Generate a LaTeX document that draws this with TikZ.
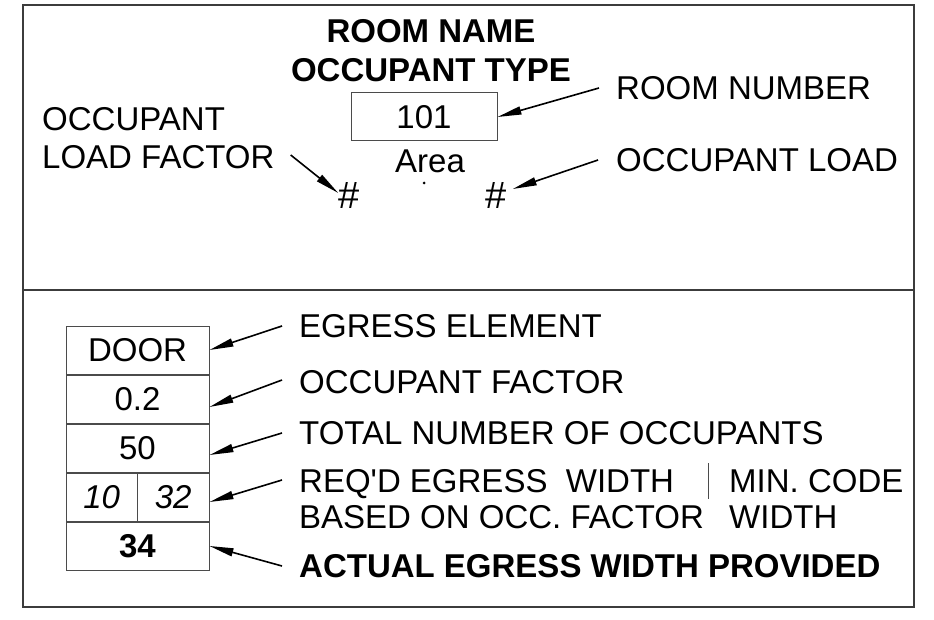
\documentclass[tikz,border=0pt]{standalone}
\usepackage{fontspec}
\setmainfont{Liberation Sans}
\definecolor{FrameGray}{RGB}{60, 60, 60}
\definecolor{CellGray}{RGB}{75, 75, 75}
\usepackage{tikz}
\usetikzlibrary{arrows.meta, positioning, calc}

\begin{document}
\begin{tikzpicture}[x=1pt, y=-1pt,
    txt/.style={inner sep=0pt, font=\fontsize{33}{40}\selectfont, text height=23pt, text depth=0pt},
    boldtxt/.style={txt, font=\bfseries\fontsize{33}{40}\selectfont},
    lbl/.style={txt, anchor=west},
    cell/.style={draw=CellGray, line width=1pt, minimum width=143pt, minimum height=48pt, inner sep=0pt,
      font=\fontsize{33}{40}\selectfont, text height=23pt, text depth=0pt},
    ptr/.style={-{Triangle[length=24pt, width=8pt]}, line width=1.6pt}]
  \useasboundingbox (0,0) rectangle (934,620);
  \draw[FrameGray, line width=1.5pt] (23,5) rectangle (914,607);
  \draw[FrameGray, line width=1.5pt] (23,290) -- (914,290);

  % room tag
  \node[boldtxt] (rname) at (431,31) {ROOM NAME};
  \node[boldtxt] (otype) at (431,70) {OCCUPANT TYPE};
  \node[cell, minimum width=146pt] (room) at (424,117) {101};
  \node[txt] (area) at (430,161) {Area};
  \fill (424,183) circle (1.5pt);
  \node[txt, font=\fontsize{38}{40}\selectfont] (hashL) at (349,197) {\#};
  \node[txt, font=\fontsize{38}{40}\selectfont] (hashR) at (496,197) {\#};
  \node[lbl] (olf1) at (42,119) {OCCUPANT};
  \node[lbl] (olf2) at (42,157) {LOAD FACTOR};
  \node[lbl] (rnum) at (616,88) {ROOM NUMBER};
  \node[lbl] (oload) at (616,160) {OCCUPANT LOAD};
  \draw[ptr] ([xshift=16pt, yshift=2pt]olf2.east) -- ([yshift=4pt]hashL.west);
  \draw[ptr] ([xshift=-17pt]rnum.west) -- (room.east);
  \draw[ptr] ([xshift=-18pt]oload.west) -- ([xshift=6pt, yshift=8pt]hashR.east);

  % egress tag
  \node[cell] (door) at (137.5,350) {DOOR};
  \node[cell, below=0pt of door] (factor) {0.2};
  \node[cell, below=0pt of factor] (total) {50};
  \node[cell, minimum width=71.5pt, anchor=north west] (reqw) at (total.south west) {\itshape 10};
  \node[cell, minimum width=71.5pt, anchor=north east] (codew) at (total.south east) {\itshape 32};
  \node[cell, anchor=north west] (actual) at (reqw.south west) {\bfseries 34};
  \node[lbl] (egress) at (299,326) {EGRESS ELEMENT};
  \node[lbl] (ofactor) at (299,382) {OCCUPANT FACTOR};
  \node[lbl] (tnum) at (299,433) {TOTAL NUMBER OF OCCUPANTS};
  \node[lbl] (req1) at (299,481) {REQ\textquotesingle D EGRESS\ \ WIDTH};
  \node[lbl] (req2) at (299,517) {BASED ON OCC. FACTOR};
  \node[lbl] (min1) at (729,481) {MIN. CODE};
  \node[lbl] (min2) at (729,517) {WIDTH};
  \draw[CellGray, line width=1pt] (708,463) -- (708,499);
  \node[lbl, font=\bfseries\fontsize{33}{40}\selectfont] (provided) at (299,566) {ACTUAL EGRESS WIDTH PROVIDED};
  \draw[ptr] ([xshift=-17pt]egress.west) -- (door.east);
  \draw[ptr] ([xshift=-17pt, yshift=2pt]ofactor.west) -- ([yshift=-8pt]factor.east);
  \draw[ptr] ([xshift=-17pt]tnum.west) -- ([yshift=-7pt]total.east);
  \draw[ptr] ([xshift=-17pt, yshift=1pt]req1.west) -- ([yshift=-5pt]codew.east);
  \draw[ptr] ([xshift=-17pt]provided.west) -- (actual.east);
\end{tikzpicture}
\end{document}
